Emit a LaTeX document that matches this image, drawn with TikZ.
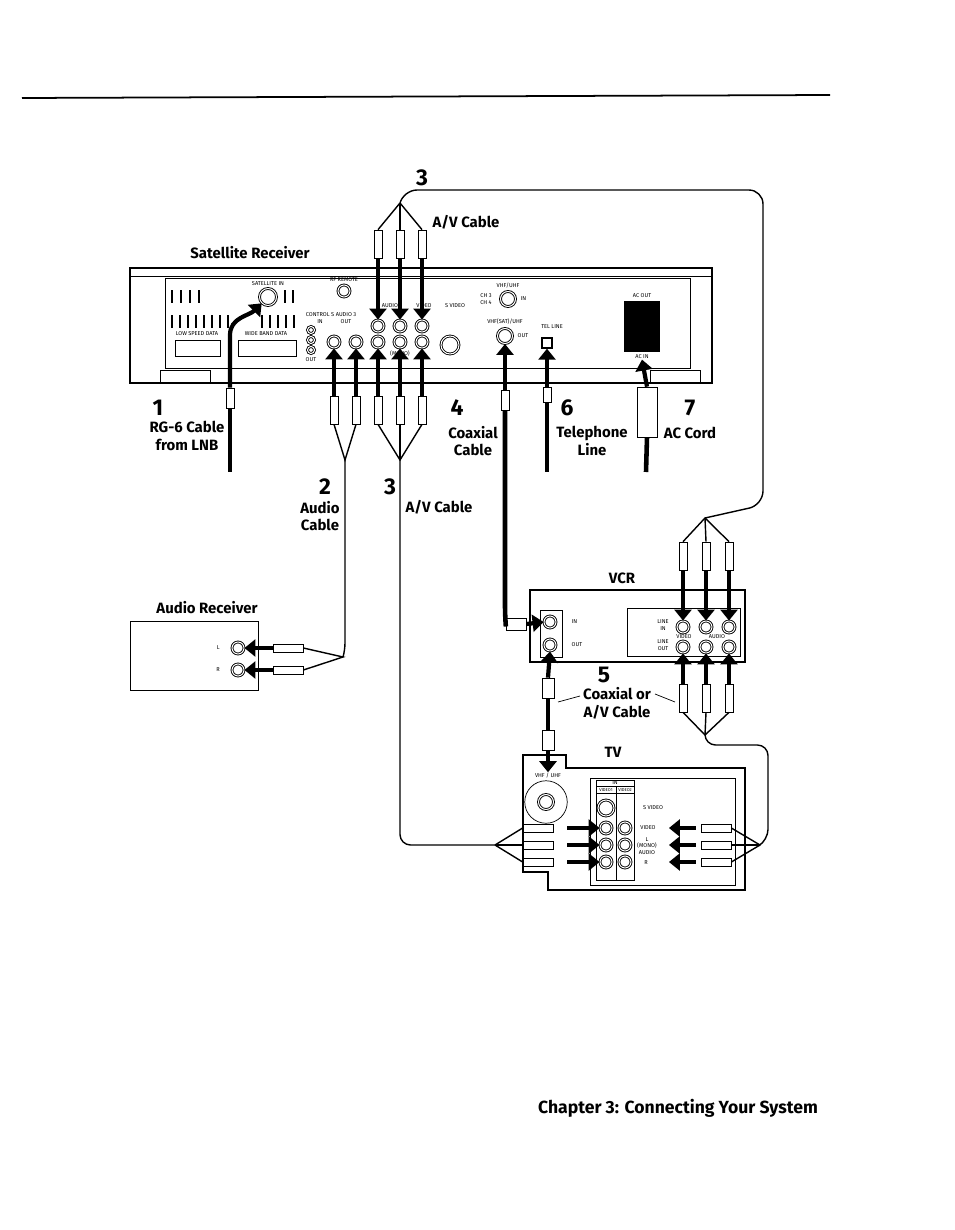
\documentclass[tikz,border=0pt]{standalone}
\usepackage{fontspec}
\setsansfont{Fira Sans}
\usetikzlibrary{arrows.meta,positioning}

\tikzset{
  jack/.style={circle, draw, double, inner sep=0pt, minimum size=0.24cm, line width=0.5pt},
  plugv/.style={rectangle, draw, fill=white, minimum width=0.16cm, minimum height=0.56cm, inner sep=0pt},
  plugh/.style={rectangle, draw, fill=white, minimum width=0.6cm, minimum height=0.16cm, inner sep=0pt},
  feed/.style={line width=2.4pt, -{Triangle[length=0.22cm,width=0.34cm]}},
  cable/.style={line width=0.8pt},
  coax/.style={line width=2.6pt},
  lbl/.style={font=\sffamily\bfseries\fontsize{8.5}{10}\selectfont, align=center},
  num/.style={font=\sffamily\bfseries\fontsize{13}{13}\selectfont},
  tiny/.style={font=\sffamily\fontsize{3.2}{3.6}\selectfont, inner sep=0.5pt, align=center}
}

\begin{document}
\begin{tikzpicture}[x=0.02cm, y=-0.02cm]
  \useasboundingbox (0,0) rectangle (954,1230);
  % page rule and footer
  \draw[line width=1pt] (22,98) -- (830,95);
  \node[lbl, font=\sffamily\bfseries\fontsize{10}{12}\selectfont] (footer) at (678,1108) {Chapter 3: Connecting Your System};

  % Satellite receiver body
  \draw[thick] (130,383) -- (130,268) -- (712,268) -- (712,383) -- cycle;
  \draw (130,276) -- (712,276);
  \draw (165,278) rectangle (690,368);
  \draw (160,370) rectangle (210,383);
  \draw (650,370) rectangle (700,383);
  \node[lbl] (satlbl) at (250,253) {Satellite Receiver};
  \foreach \x in {172,181,190,199} \draw[line width=1.4pt] (\x,290) -- (\x,303);
  \foreach \x in {172,180,188,196,204,212,220,228} \draw[line width=1.4pt] (\x,315) -- (\x,328);
  \foreach \x in {285,293} \draw[line width=1.4pt] (\x,290) -- (\x,303);
  \foreach \x in {262,270,278,286,294} \draw[line width=1.4pt] (\x,315) -- (\x,328);
  \draw (175,340) rectangle (220,356);
  \draw (238,340) rectangle (296,356);
  \node[tiny] at (197,334) {LOW SPEED DATA};
  \node[tiny] at (266,334) {WIDE BAND DATA};

  % receiver jacks
  \node[jack, minimum size=0.34cm] (satin) at (268,297) {};
  \node[tiny, above=1pt of satin] {SATELLITE IN};
  \node[jack] (rfrem) at (344,291) {};
  \node[tiny, above=1pt of rfrem] {RF REMOTE};
  \foreach \y in {330,340,350} \node[jack, minimum size=0.14cm] at (311,\y) {};
  \node[tiny] at (320,318) {CONTROL S\\IN};
  \node[tiny] at (311,360) {OUT};
  \node[tiny] at (346,318) {AUDIO 3\\OUT};
  \node[jack] (a3r) at (334,342) {};
  \node[jack] (a3l) at (356,342) {};
  \node[jack] (ar1) at (378,326) {};
  \node[jack] (al1) at (400,326) {};
  \node[jack] (vd1) at (422,326) {};
  \node[jack] (ar2) at (378,342) {};
  \node[jack] (al2) at (400,342) {};
  \node[jack] (vd2) at (422,342) {};
  \node[tiny] at (390,306) {AUDIO};
  \node[tiny] at (424,306) {VIDEO};
  \node[tiny] at (400,354) {(MONO)};
  \node[jack, minimum size=0.36cm] (svid) at (450,345) {};
  \node[tiny] at (455,306) {S VIDEO};
  \node[jack, minimum size=0.3cm] (vhfin) at (508,299) {};
  \node[tiny, above=1pt of vhfin] {VHF/UHF};
  \node[tiny, right=2pt of vhfin] {IN};
  \node[tiny] at (486,299) {CH 3\\CH 4};
  \node[jack, minimum size=0.3cm] (vhfout) at (505,336) {};
  \node[tiny] at (505,322) {VHF(SAT)/UHF};
  \node[tiny, right=2pt of vhfout] {OUT};
  \node[draw, thick, minimum size=0.2cm, inner sep=0pt] (tel) at (547,343) {};
  \node[tiny] at (552,327) {TEL LINE};
  \node[draw, fill=black, minimum width=0.7cm, minimum height=1.0cm] (acbox) at (642,326) {};
  \node[tiny, above=1pt of acbox] {AC OUT};
  \node[tiny, below=1pt of acbox] (acin) {AC IN};

  % top A/V cable (3)
  \node[num] (n3a) at (422,178) {3};
  \node[lbl] (avlbl) at (466,222) {A/V Cable};
  \node[plugv] (tp1) at (378,244) {};
  \node[plugv] (tp2) at (400,244) {};
  \node[plugv] (tp3) at (422,244) {};
  \coordinate (s1) at (400,203);
  \foreach \p in {tp1,tp2,tp3} {
    \draw[cable] (s1) -- (\p.north);
  }
  \draw[feed] (tp1.south) -- (ar1.north);
  \draw[feed] (tp2.south) -- (al1.north);
  \draw[feed] (tp3.south) -- (vd1.north);

  % bottom plugs at receiver
  \node[plugv] (bp1) at (334,410) {};
  \node[plugv] (bp2) at (356,410) {};
  \node[plugv] (bp3) at (378,410) {};
  \node[plugv] (bp4) at (400,410) {};
  \node[plugv] (bp5) at (422,410) {};
  \draw[feed] (bp1.north) -- (a3r.south);
  \draw[feed] (bp2.north) -- (a3l.south);
  \draw[feed] (bp3.north) -- (ar2.south);
  \draw[feed] (bp4.north) -- (al2.south);
  \draw[feed] (bp5.north) -- (vd2.south);
  \coordinate (s2) at (345,460);
  \coordinate (s3) at (400,460);
  \draw[cable] (bp1.south) -- (s2) -- (bp2.south);
  \draw[cable] (bp3.south) -- (s3) -- (bp5.south);
  \draw[cable] (bp4.south) -- (s3);
  \node[num] (n2) at (325,487) {2};
  \node[lbl] (audlbl) at (320,516) {Audio\\Cable};
  \node[num] (n3b) at (390,487) {3};
  \node[lbl] (avlbl2) at (439,507) {A/V Cable};

  % cable 1
  \node[plugv, minimum height=0.4cm] (c1) at (230,398) {};
  \draw[feed] (c1.north) -- (230,335) to[out=90, in=225] (satin);
  \draw[coax] (c1.south) -- (230,472);
  \node[num] (n1) at (158,408) {1};
  \node[lbl] (rglbl) at (187,436) {RG-6 Cable\\from LNB};

  % cable 4
  \node[plugv, minimum height=0.4cm] (c4) at (505,400) {};
  \draw[feed] (c4.north) -- (vhfout.south);
  \node[num] (n4) at (457,408) {4};
  \node[lbl] (coaxlbl) at (473,441) {Coaxial\\Cable};

  % cable 6
  \node[plugv, minimum height=0.3cm] (c6) at (547,395) {};
  \draw[feed] (c6.north) -- (tel.south);
  \draw[coax] (c6.south) -- (547,472);
  \node[num] (n6) at (567,408) {6};
  \node[lbl] (tellbl) at (592,441) {Telephone\\Line};

  % cable 7
  \node[rectangle, draw, fill=white, minimum width=0.4cm, minimum height=1cm] (c7) at (647,412) {};
  \draw[feed] (c7.north) -- (acin.south);
  \draw[coax] (c7.south) -- (646,472);
  \node[num] (n7) at (690,408) {7};
  \node[lbl] (aclbl) at (690,433) {AC Cord};

  % Audio receiver
  \draw (130,621) rectangle (258,690);
  \node[lbl] (arlbl) at (207,608) {Audio Receiver};
  \node[jack] (jl) at (238,648) {};
  \node[jack] (jr) at (238,670) {};
  \node[tiny, left=6pt of jl] {L};
  \node[tiny, left=6pt of jr] {R};
  \node[plugh] (apl) at (288,648) {};
  \node[plugh] (apr) at (288,670) {};
  \draw[feed] (apl.west) -- (jl.east);
  \draw[feed] (apr.west) -- (jr.east);
  \coordinate (s2b) at (343,657);
  \draw[cable, rounded corners=4pt] (s2) -- (345,650) -- (s2b);
  \draw[cable] (apl.east) -- (s2b) -- (apr.east);

  % VCR
  \draw[thick] (530,590) rectangle (745,662);
  \node[lbl] (vcrlbl) at (622,578) {VCR};
  \draw (540,610) rectangle (562,657);
  \node[jack] (vin) at (550,622) {};
  \node[jack] (vout) at (550,645) {};
  \node[tiny, right=8pt of vin] {IN};
  \node[tiny, right=8pt of vout] {OUT};
  \draw (627,608) rectangle (740,656);
  \node[jack] (vli1) at (683,627) {};
  \node[jack] (vli2) at (706,627) {};
  \node[jack] (vli3) at (729,627) {};
  \node[jack] (vlo1) at (683,647) {};
  \node[jack] (vlo2) at (706,647) {};
  \node[jack] (vlo3) at (729,647) {};
  \node[tiny] at (663,625) {LINE\\IN};
  \node[tiny] at (663,645) {LINE\\OUT};
  \node[tiny] at (684,637) {VIDEO};
  \node[tiny] at (717,637) {AUDIO};
  \node[plugv] (vtp1) at (683,556) {};
  \node[plugv] (vtp2) at (706,556) {};
  \node[plugv] (vtp3) at (729,556) {};
  \draw[feed] (vtp1.south) -- (vli1.north);
  \draw[feed] (vtp2.south) -- (vli2.north);
  \draw[feed] (vtp3.south) -- (vli3.north);
  \coordinate (s4) at (705,518);
  \draw[cable] (vtp1.north) -- (s4) -- (vtp3.north);
  \draw[cable] (vtp2.north) -- (s4);
  \draw[cable, rounded corners=8pt] (s1) -- (403,190) -- (763,190) -- (763,505) -- (s4);
  \node[plugv] (vbp1) at (683,698) {};
  \node[plugv] (vbp2) at (706,698) {};
  \node[plugv] (vbp3) at (729,698) {};
  \draw[feed] (vbp1.north) -- (vlo1.south);
  \draw[feed] (vbp2.north) -- (vlo2.south);
  \draw[feed] (vbp3.north) -- (vlo3.south);
  \coordinate (s5) at (705,735);

  % coax from receiver into VCR
  \node[plugh, minimum width=0.4cm, minimum height=0.24cm] (c4b) at (516,624) {};
  \draw[coax, rounded corners=6pt] (c4.south) -- (505,616) -- (c4b.west);
  \draw[feed] (c4b.east) -- (vin.west);

  % cable 5
  \node[num] (n5) at (604,675) {5};
  \node[lbl] (c5lbl) at (617,703) {Coaxial or\\A/V Cable};
  \node[plugv, minimum height=0.4cm, minimum width=0.24cm] (c5a) at (548,688) {};
  \node[plugv, minimum height=0.4cm, minimum width=0.24cm] (c5b) at (548,740) {};
  \draw[feed] (c5a.north) -- (vout.south);
  \draw[coax] (c5a.south) -- (c5b.north);
  \draw[thin] (558,702) -- (580,696);
  \draw[thin] (655,694) -- (675,702);

  % TV
  \draw[thick] (523,755) -- (566,755) -- (566,768) -- (745,768) -- (745,890) -- (548,890) -- (548,872) -- (523,872) -- cycle;
  \node[lbl] (tvlbl) at (613,752) {TV};
  \node[tiny] (tvant) at (548,776) {VHF / UHF};
  \draw[feed] (c5b.south) -- (tvant.north);
  \node[circle, draw, minimum size=0.85cm] (tvring) at (546,802) {};
  \node[jack, minimum size=0.3cm] at (546,802) {};
  \draw (590,778) rectangle (735,885);
  \draw (596,780) rectangle (634,880);
  \draw (596,786) -- (634,786) (596,793) -- (634,793) (616,786) -- (616,880);
  \node[tiny] at (615,783) {IN};
  \node[tiny, font=\sffamily\fontsize{2.4}{3}\selectfont] at (606,790) {VIDEO1};
  \node[tiny, font=\sffamily\fontsize{2.4}{3}\selectfont] at (625,790) {VIDEO2};
  \node[jack, minimum size=0.32cm] (tvs) at (606,808) {};
  \node[tiny] at (653,808) {S VIDEO};
  \node[jack] (tv11) at (606,828) {};
  \node[jack] (tv12) at (606,845) {};
  \node[jack] (tv13) at (606,862) {};
  \node[jack] (tv21) at (625,828) {};
  \node[jack] (tv22) at (625,845) {};
  \node[jack] (tv23) at (625,862) {};
  \node[tiny] at (648,828) {VIDEO};
  \node[tiny] at (647,846) {L\\(MONO)\\AUDIO};
  \node[tiny] at (646,863) {R};
  \foreach \i/\y in {1/828,2/845,3/862} {
    \node[plugh] (tlp\i) at (538,\y) {};
    \node[plugh] (trp\i) at (716,\y) {};
    \draw[feed] ([xshift=0.28cm]tlp\i.east) -- (tv1\i.west);
    \draw[feed] ([xshift=-0.1cm]trp\i.west) -- ([xshift=0.75cm]tv2\i.east);
  }
  \coordinate (s6) at (495,845);
  \coordinate (s7) at (760,845);
  \draw[cable, rounded corners=6pt] (s3) -- (400,845) -- (s6);
  \foreach \i in {1,2,3} {
    \draw[cable] (s6) -- (tlp\i.west);
    \draw[cable] (s7) -- (trp\i.east);
  }
  \draw[cable] (vbp1.south) -- (s5) -- (vbp3.south);
  \draw[cable] (vbp2.south) -- (s5);
  \draw[cable, rounded corners=6pt] (s5) -- (705,745) -- (768,745) -- (768,840) -- (s7);
\end{tikzpicture}
\end{document}
